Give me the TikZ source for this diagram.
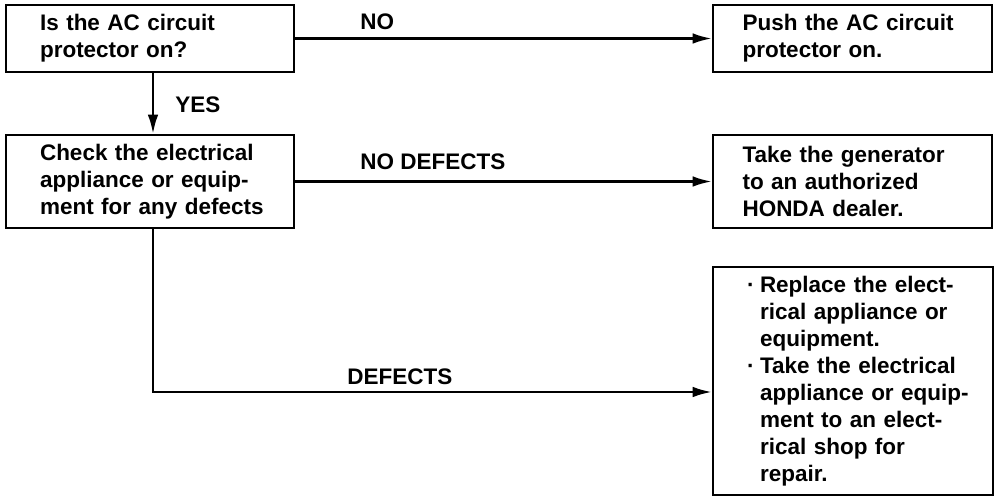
\documentclass[tikz,border=0pt]{standalone}
\usepackage{fontspec}
\setmainfont{Liberation Sans}
\usetikzlibrary{arrows.meta, positioning}

\newcommand{\bul}{\makebox[0.26cm][l]{·}}
\newcommand{\lne}[1]{\mbox{#1}}
\newcommand{\ilne}[1]{\mbox{\hspace*{0.26cm}#1}}

\begin{document}
\begin{tikzpicture}[
  x=0.02cm, y=-0.02cm,
  txt/.style={font=\bfseries\fontsize{12.8}{15.4}\selectfont},
  box/.style={draw, line width=1.1pt, txt, align=left, inner sep=0pt,
              text width=4.4cm},
  lbl/.style={txt, anchor=west, inner sep=0pt},
  arr/.style={-{Latex[length=11pt, width=6pt]}, line width=1.5pt}
]
\useasboundingbox (0,0) rectangle (998,496);

% left column
\node[box, minimum width=5.76cm, minimum height=1.34cm] (q) at (150,38.5)
  {\lne{Is the AC circuit}\\ \lne{protector on?}};
\node[box, minimum width=5.76cm, minimum height=1.86cm] (chk) at (150,181.5)
  {\lne{Check the electrical}\\ \lne{appliance or equip-}\\ \lne{ment for any defects}};

% right column
\node[box, minimum width=5.58cm, minimum height=1.34cm] (push) at (852.5,38.5)
  {\lne{Push the AC circuit}\\ \lne{protector on.}};
\node[box, minimum width=5.58cm, minimum height=1.86cm] (dealer) at (852.5,181.5)
  {\lne{Take the generator}\\ \lne{to an authorized}\\ \lne{HONDA dealer.}};
\node[box, text width=4.24cm, minimum width=5.6cm, minimum height=4.56cm] (repair) at (853,381)
  {\lne{\bul Replace the elect-}\\ \ilne{rical appliance or}\\ \ilne{equipment.}\\
   \lne{\bul Take the electrical}\\ \ilne{appliance or equip-}\\ \ilne{ment to an elect-}\\
   \ilne{rical shop for}\\ \ilne{repair.}};

\coordinate (dfk) at (153,392);

\draw[arr] (q) -- (push);
\draw[arr] (q.south -| dfk) -- (chk.north -| dfk);
\draw[arr] (chk) -- (dealer);
\draw[arr] (chk.south -| dfk) -- (dfk) -- (repair.west |- dfk);

\node[lbl] (no) at (360,22) {NO};
\node[lbl] (yes) at (175,105) {YES};
\node[lbl] (nodef) at (360,162) {NO DEFECTS};
\node[lbl] (def) at (347,377) {DEFECTS};
\end{tikzpicture}
\end{document}
